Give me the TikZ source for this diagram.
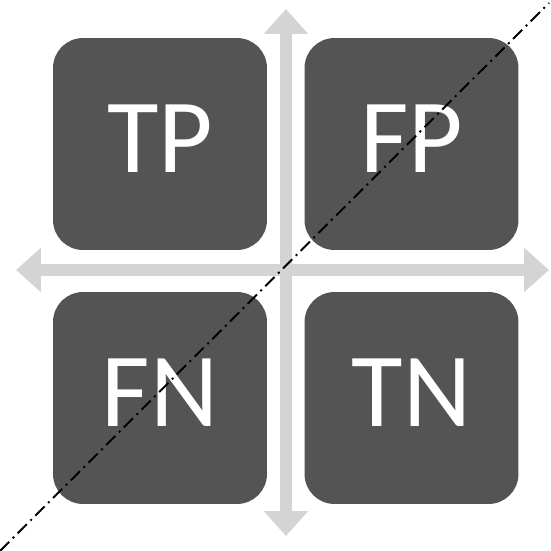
\documentclass[tikz,border=0pt]{standalone}
\usepackage{fontspec}
\setmainfont{Carlito}
\usetikzlibrary{arrows.meta}
\definecolor{cellgray}{HTML}{545454}
\definecolor{axisgray}{HTML}{D4D4D4}
\tikzset{
  cell/.style={fill=cellgray, rounded corners=0.6cm, minimum width=4.28cm,
    minimum height=4.24cm},
  label/.style={text=white, font=\fontsize{60}{60}\selectfont},
  axis/.style={axisgray, line width=0.25cm,
    {Triangle[width=0.86cm,length=0.5cm]}-{Triangle[width=0.86cm,length=0.5cm]}},
  diag/.style={black, line width=1.1pt, dash pattern=on 0.26cm off 0.1cm on 0.04cm off 0.1cm}
}
\begin{document}
\begin{tikzpicture}[x=0.02cm,y=-0.02cm]
\useasboundingbox (0,0) rectangle (551,551);
% axes
\coordinate (top) at (286,9);
\coordinate (bottom) at (286,536);
\coordinate (left) at (16,270);
\coordinate (right) at (549,270);
\draw [axis] (top) -- (bottom);
\draw [axis] (left) -- (right);
% cases
\node [cell] (tp) at (160,144) {};
\node [cell] (fp) at (411.5,144) {};
\node [cell] (fn) at (160,398) {};
\node [cell] (tn) at (411.5,398) {};
\node [label] (tptext) at ([yshift=0.1cm]tp.center) {TP};
\node [label] (fptext) at ([yshift=0.1cm]fp.center) {FP};
\node [label] (fntext) at ([yshift=0.1cm]fn.center) {FN};
\node [label] (tntext) at ([yshift=0.1cm]tn.center) {TN};
% diagonale
\coordinate (d1) at (0,551);
\coordinate (d2) at (549,3);
\draw [diag] (d1) -- (d2);
\end{tikzpicture}
\end{document}
